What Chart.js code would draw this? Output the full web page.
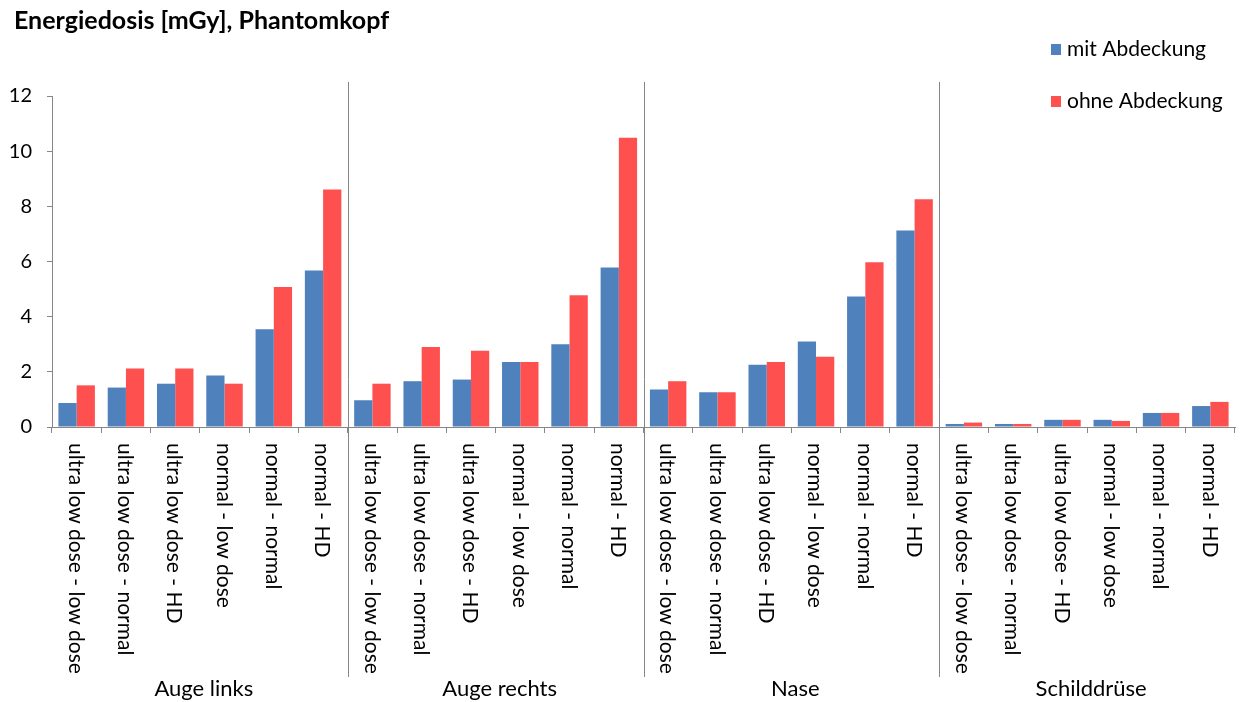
<!DOCTYPE html>
<html>
<head>
<meta charset="utf-8">
<script src="https://cdn.jsdelivr.net/npm/chart.js@4.4.1/dist/chart.umd.min.js"></script>
<style>
html,body{margin:0;padding:0;background:#fff;}
#wrap{position:relative;width:1243px;height:702px;}
</style>
</head>
<body>
<div id="wrap"><canvas id="c" width="1243" height="702"></canvas></div>
<script>
const titleText = 'Energiedosis [mGy], Phantomkopf';
const groups = ['Auge links', 'Auge rechts', 'Nase', 'Schilddrüse'];
const protocols = ['ultra low dose - low dose', 'ultra low dose - normal', 'ultra low dose - HD', 'normal - low dose', 'normal - normal', 'normal - HD'];
const seriesNames = ['mit Abdeckung', 'ohne Abdeckung'];
const mitAbdeckung = [
  0.87, 1.43, 1.57, 1.87, 3.54, 5.67,
  0.97, 1.66, 1.72, 2.36, 3.00, 5.78,
  1.36, 1.26, 2.26, 3.10, 4.73, 7.12,
  0.11, 0.11, 0.26, 0.26, 0.51, 0.76
];
const ohneAbdeckung = [
  1.51, 2.12, 2.12, 1.57, 5.08, 8.61,
  1.57, 2.90, 2.76, 2.36, 4.78, 10.49,
  1.66, 1.26, 2.36, 2.55, 5.97, 8.26,
  0.16, 0.11, 0.26, 0.22, 0.51, 0.91
];
const yTicks = [0, 2, 4, 6, 8, 10, 12];

const labels = [];
groups.forEach(g => protocols.forEach(p => labels.push(p)));

const FONT = 'Lato, "Liberation Sans", sans-serif';
const AXIS = '#868686';
const colors = ['#4F81BD', '#FF5050'];

const overlay = {
  id: 'overlay',
  afterDraw(chart) {
    const ctx = chart.ctx;
    const x = chart.scales.x;
    const area = chart.chartArea;
    ctx.save();
    // title
    ctx.fillStyle = '#000';
    ctx.font = 'bold 25px ' + FONT;
    ctx.textAlign = 'left';
    ctx.textBaseline = 'alphabetic';
    ctx.fillText(titleText, 14, 29);
    // legend
    ctx.font = '21px ' + FONT;
    ctx.textBaseline = 'middle';
    const legY = [49, 101];
    seriesNames.forEach((n, i) => {
      ctx.fillStyle = colors[i];
      ctx.fillRect(1051, legY[i] - 5, 10, 11);
      ctx.fillStyle = '#000';
      ctx.fillText(n, 1067, legY[i]);
    });
    // category labels (rotated clockwise)
    ctx.font = '21px ' + FONT;
    labels.forEach((l, i) => {
      const cx = x.getPixelForValue(i);
      ctx.save();
      ctx.translate(cx - 1, area.bottom + 16);
      ctx.rotate(Math.PI / 2);
      ctx.textAlign = 'left';
      ctx.textBaseline = 'middle';
      ctx.fillStyle = '#000';
      ctx.fillText(l, 0, 0);
      ctx.restore();
    });
    // group separators and group labels
    ctx.strokeStyle = AXIS;
    ctx.lineWidth = 1;
    const n = protocols.length;
    groups.forEach((g, gi) => {
      const first = x.getPixelForValue(gi * n);
      const last = x.getPixelForValue(gi * n + n - 1);
      const c = (first + last) / 2;
      ctx.font = '22px ' + FONT;
      ctx.textAlign = 'center';
      ctx.textBaseline = 'middle';
      ctx.fillStyle = '#000';
      ctx.fillText(g, c + 4, 689);
      if (gi > 0) {
        const sx = Math.round((x.getPixelForValue(gi * n - 1) + first) / 2) + 0.5;
        ctx.beginPath();
        ctx.moveTo(sx, 82);
        ctx.lineTo(sx, 677);
        ctx.stroke();
      }
    });
    ctx.restore();
  }
};

new Chart(document.getElementById('c'), {
  type: 'bar',
  data: {
    labels: labels,
    datasets: [
      { label: seriesNames[0], data: mitAbdeckung, backgroundColor: colors[0], borderWidth: 0 },
      { label: seriesNames[1], data: ohneAbdeckung, backgroundColor: colors[1], borderWidth: 0 }
    ]
  },
  options: {
    responsive: false,
    animation: false,
    devicePixelRatio: 1,
    layout: { padding: { top: 96, right: 8, left: 0, bottom: 0 } },
    plugins: { legend: { display: false }, tooltip: { enabled: false }, title: { display: false } },
    datasets: { bar: { categoryPercentage: 0.74, barPercentage: 1.0 } },
    scales: {
      x: {
        offset: true,
        grid: { display: true, offset: true, drawOnChartArea: false, drawTicks: true, tickLength: 6, color: AXIS },
        border: { display: true, color: AXIS, width: 1 },
        ticks: { display: false },
        afterFit(s) { s.height = 275; }
      },
      y: {
        min: 0, max: 12,
        afterBuildTicks(s) { s.ticks = yTicks.map(v => ({ value: v })); },
        grid: { display: true, drawOnChartArea: false, drawTicks: true, tickLength: 5, color: AXIS },
        border: { display: true, color: AXIS, width: 1 },
        ticks: { color: '#000', font: { family: FONT, size: 20 }, padding: 15 },
        afterFit(s) { s.width = 52; }
      }
    }
  },
  plugins: [overlay]
});
</script>
</body>
</html>
